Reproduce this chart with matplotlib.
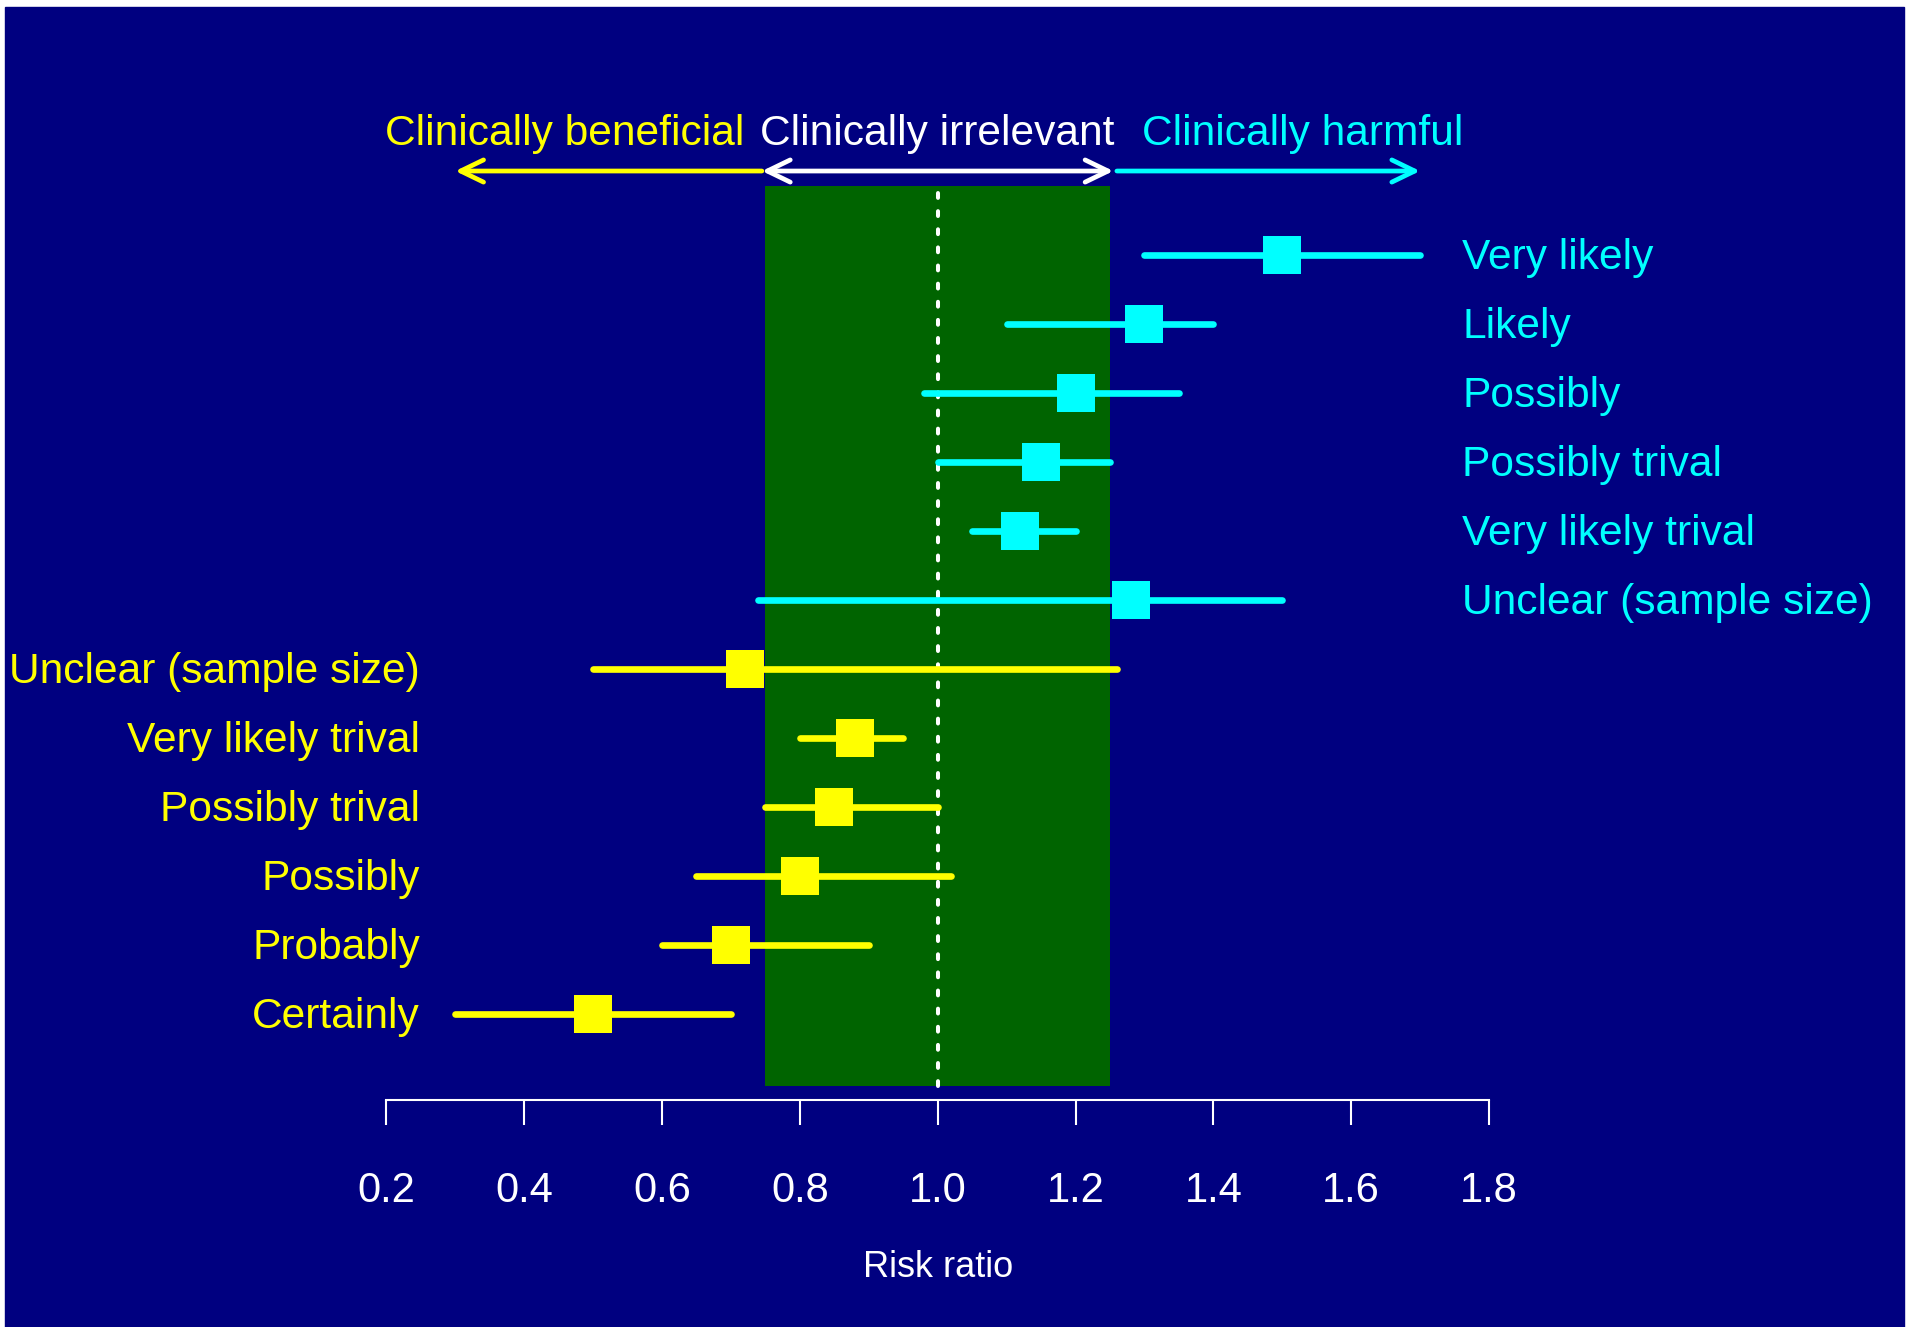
import matplotlib
matplotlib.use("Agg")
import matplotlib.pyplot as plt
from matplotlib.patches import Rectangle

plt.rcParams['font.family'] = ['Liberation Sans', 'DejaVu Sans']

NAVY = '#000080'
GREEN = '#006400'
CYAN = '#00ffff'
YELLOW = '#ffff00'

# harmful side (cyan), top to bottom
harm_labels = ["Very likely", "Likely", "Possibly", "Possibly trival",
               "Very likely trival", "Unclear (sample size)"]
harm_est = [1.50, 1.30, 1.20, 1.15, 1.12, 1.28]
harm_lo = [1.30, 1.10, 0.98, 1.00, 1.05, 0.74]
harm_hi = [1.70, 1.40, 1.35, 1.25, 1.20, 1.50]

# beneficial side (yellow), top to bottom
ben_labels = ["Unclear (sample size)", "Very likely trival", "Possibly trival",
              "Possibly", "Probably", "Certainly"]
ben_est = [0.72, 0.88, 0.85, 0.80, 0.70, 0.50]
ben_lo = [0.50, 0.80, 0.75, 0.65, 0.60, 0.30]
ben_hi = [1.26, 0.95, 1.00, 1.02, 0.90, 0.70]

trivial_lo, trivial_hi = 0.75, 1.25
null_value = 1.0
arrow_left, arrow_right = 0.30, 1.70

xticks = [0.2, 0.4, 0.6, 0.8, 1.0, 1.2, 1.4, 1.6, 1.8]
xticklabels = ["0.2", "0.4", "0.6", "0.8", "1.0", "1.2", "1.4", "1.6", "1.8"]

W, H = 1917, 1327
fig = plt.figure(figsize=(W / 100, H / 100), dpi=100, facecolor='white')
fig.patches.append(Rectangle((5 / W, 0), 1899 / W, 1320 / H,
                             transform=fig.transFigure, color=NAVY, zorder=-10))

ax = fig.add_axes([5 / W, (H - 1100) / H, 1899 / W, 1093 / H])
ax.set_facecolor('none')
ax.set_xlim(-0.3532, 2.402)
ax.set_ylim(-0.246, 15.594)

n = len(harm_labels) + len(ben_labels)
y_harm = [n - i for i in range(len(harm_labels))]
y_ben = [len(ben_labels) - i for i in range(len(ben_labels))]

# trivial zone + null line
ax.add_patch(Rectangle((trivial_lo, -0.04), trivial_hi - trivial_lo, n + 1.04,
                       color=GREEN, zorder=1, lw=0))
ax.vlines(null_value, -0.04, n + 1.0, colors='white', lw=2.9,
          linestyles=(0, (1.2, 3.3)), zorder=2, capstyle='round')

# intervals and point estimates
for ys, est, lo, hi, col in [(y_harm, harm_est, harm_lo, harm_hi, CYAN),
                             (y_ben, ben_est, ben_lo, ben_hi, YELLOW)]:
    lc = ax.hlines(ys, lo, hi, colors=col, lw=4.8, zorder=3)
    lc.set_capstyle('round')
    ax.plot(est, ys, 's', ms=27.6, color=col, mec=col, mew=0, zorder=4)

# row labels
for y, lab in zip(y_harm, harm_labels):
    ax.text(1.761, y - 0.04, lab, color=CYAN, fontsize=30.6, ha='left', va='center')
for y, lab in zip(y_ben, ben_labels):
    ax.text(0.249, y - 0.04, lab, color=YELLOW, fontsize=30.6, ha='right', va='center')

# clinical region arrows
ya = n + 1.217
akw = dict(lw=3.4, shrinkA=0, shrinkB=0, mutation_scale=10, capstyle='round')
hs = 'head_length=1.65,head_width=0.8'
ax.annotate('', xy=(arrow_left, ya), xytext=(trivial_lo - 0.005, ya),
            arrowprops=dict(arrowstyle='->,' + hs, color=YELLOW, **akw))
ax.annotate('', xy=(trivial_hi + 0.005, ya), xytext=(trivial_lo - 0.005, ya),
            arrowprops=dict(arrowstyle='<->,' + hs, color='white', **akw))
ax.annotate('', xy=(arrow_right, ya), xytext=(trivial_hi + 0.01, ya),
            arrowprops=dict(arrowstyle='->,' + hs, color=CYAN, **akw))

yt = n + 1.754
ax.text(0.459, yt, "Clinically beneficial", color=YELLOW, fontsize=30.6, ha='center', va='center')
ax.text(1.0, yt, "Clinically irrelevant", color='white', fontsize=30.6, ha='center', va='center')
ax.text(1.529, yt, "Clinically harmful", color=CYAN, fontsize=30.6, ha='center', va='center')

# x axis
for s in ['top', 'left', 'right']:
    ax.spines[s].set_visible(False)
ax.spines['bottom'].set_color('white')
ax.spines['bottom'].set_linewidth(1.5)
ax.spines['bottom'].set_bounds(xticks[0], xticks[-1])
ax.set_xticks(xticks)
ax.set_xticklabels(xticklabels)
ax.tick_params(axis='x', direction='out', length=18, width=1.5, colors='white',
               labelsize=30, pad=33)
ax.set_yticks([])
ax.set_xlabel("Risk ratio", color='white', fontsize=26)
ax.xaxis.set_label_coords(1.0, -2.667, transform=ax.transData)
ax.xaxis.label.set_va('center')

fig.savefig('out.png', dpi=100, facecolor='white')
